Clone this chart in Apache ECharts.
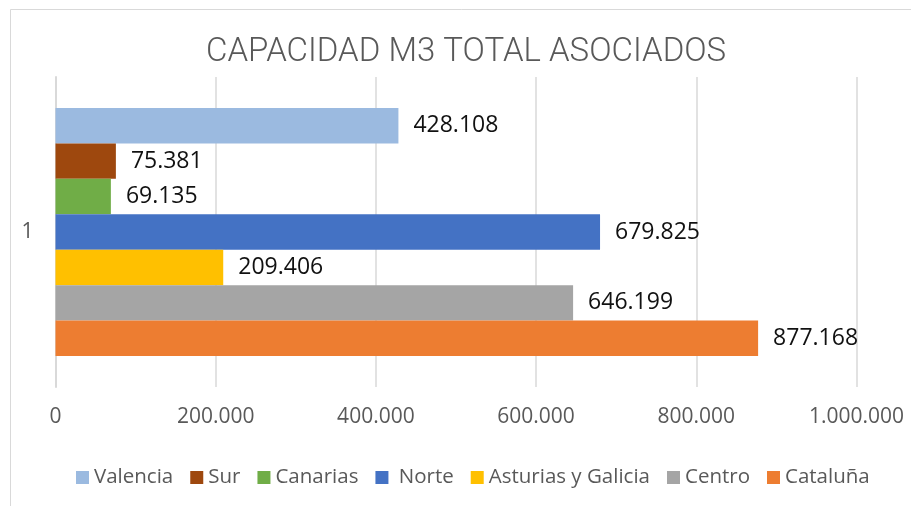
<!DOCTYPE html>
<html>
<head>
<meta charset="utf-8">
<script src="https://cdn.jsdelivr.net/npm/echarts@6/dist/echarts.min.js"></script>
<style>html,body{margin:0;padding:0;background:#fff;}#c{width:911px;height:506px;}</style>
</head>
<body>
<div id="c"></div>
<script>
const titleText = 'CAPACIDAD M3 TOTAL ASOCIADOS';
const categories = ['1'];
const seriesNames = ['Valencia', 'Sur', 'Canarias', 'Norte', 'Asturias y Galicia', 'Centro', 'Cataluña'];
const seriesValues = [428108, 75381, 69135, 679825, 209406, 646199, 877168];
const seriesColors = ['#9BBAE0', '#9E480E', '#70AD47', '#4472C4', '#FFC000', '#A5A5A5', '#ED7D31'];
const xTicks = [0, 200000, 400000, 600000, 800000, 1000000];

function fmt(v) {
  return String(Math.round(v)).replace(/\B(?=(\d{3})+(?!\d))/g, '.');
}

const chart = echarts.init(document.getElementById('c'), null, {renderer: 'canvas'});
const series = seriesNames.map((n, i) => ({
  name: n,
  type: 'bar',
  data: [seriesValues[i]],
  itemStyle: {color: seriesColors[i]},
  barGap: '0%',
  barCategoryGap: '20%',
  label: {
    show: true,
    position: 'right',
    distance: 15,
    formatter: p => fmt(p.value),
    fontFamily: 'Open Sans',
    fontSize: 23,
    color: '#111'
  }
}));

chart.setOption({
  animation: false,
  backgroundColor: '#fff',
  graphic: [{
    type: 'rect',
    shape: {x: 10.5, y: 9.5, width: 1000, height: 1000},
    style: {fill: 'none', stroke: '#D9D9D9', lineWidth: 1},
    silent: true, z: -1
  }],
  title: {
    text: titleText,
    left: 206,
    top: 33,
    padding: 0,
    textStyle: {fontFamily: 'Roboto', fontSize: 33, fontWeight: 300, color: '#595959', lineHeight: 40}
  },
  legend: {
    data: seriesNames,
    left: 71,
    top: 462,
    itemWidth: 13,
    itemHeight: 13,
    itemGap: 17,
    icon: 'rect',
    formatter: n => (n === 'Norte' ? ' ' + n : n),
    textStyle: {fontFamily: 'Open Sans', fontSize: 20.5, color: '#595959'}
  },
  grid: {left: 55.5, right: 54.5, top: 77, bottom: 119, containLabel: false},
  xAxis: {
    type: 'value',
    min: xTicks[0],
    max: xTicks[xTicks.length - 1],
    interval: xTicks[1] - xTicks[0],
    axisLine: {show: false},
    axisTick: {show: false},
    splitLine: {show: true, lineStyle: {color: '#D9D9D9', width: 1.5}},
    axisLabel: {formatter: v => fmt(v), fontFamily: 'Open Sans', fontSize: 21, color: '#595959', margin: 20}
  },
  yAxis: {
    type: 'category',
    data: categories,
    axisLine: {show: true, lineStyle: {color: '#D9D9D9', width: 2}},
    axisTick: {show: false},
    axisLabel: {fontFamily: 'Open Sans', fontSize: 21, color: '#595959', margin: 22}
  },
  series: series
});
</script>
</body>
</html>
